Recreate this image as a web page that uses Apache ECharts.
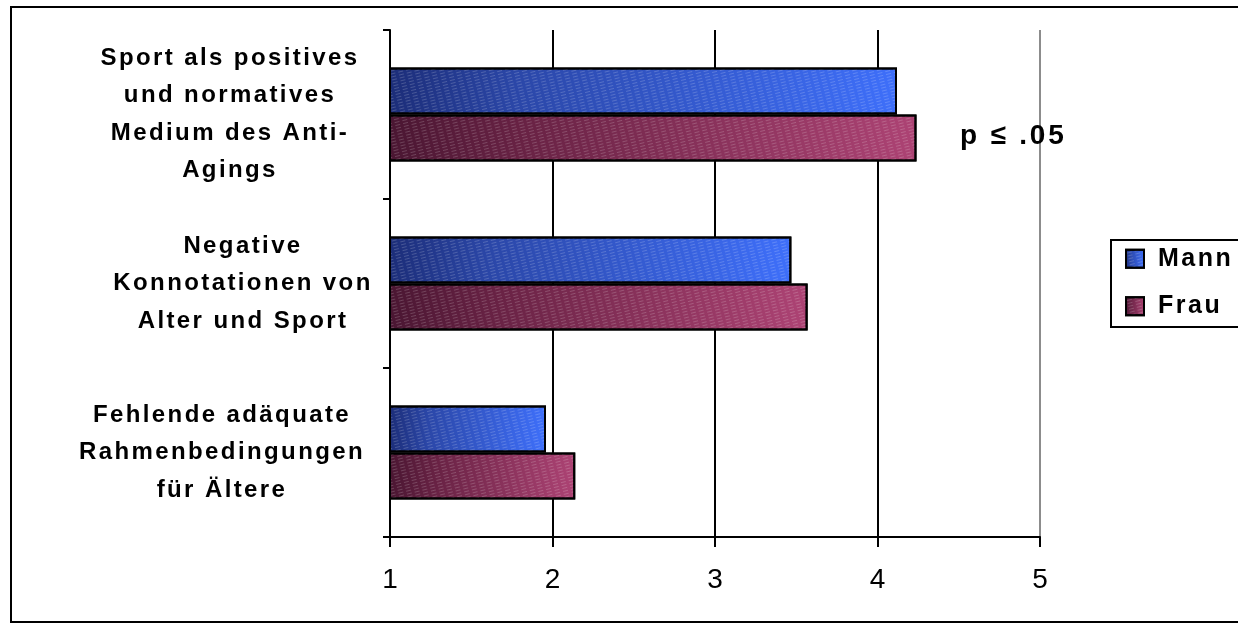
<!DOCTYPE html>
<html>
<head>
<meta charset="utf-8">
<script src="https://cdn.jsdelivr.net/npm/echarts@6/dist/echarts.min.js"></script>
<style>
html,body{margin:0;padding:0;background:#fff;}
#chart{width:1238px;height:631px;}
</style>
</head>
<body>
<div id="chart"></div>
<script>
// Wide letter spacing for bold text (as in the original Excel rendering)
(function(){
  var d = Object.getOwnPropertyDescriptor(CanvasRenderingContext2D.prototype, 'font');
  if (!d || !('letterSpacing' in CanvasRenderingContext2D.prototype)) return;
  Object.defineProperty(CanvasRenderingContext2D.prototype, 'font', {
    configurable: true,
    get: function(){ return d.get.call(this); },
    set: function(v){
      d.set.call(this, v);
      var m = /(\d+(?:\.\d+)?)px/.exec(v);
      if (/bold/.test(v) && m) { this.letterSpacing = (parseFloat(m[1]) * 0.1).toFixed(1) + 'px'; }
      else { this.letterSpacing = '0px'; }
    }
  });
})();

var categories = [
  'Sport als positives\nund normatives\nMedium des Anti-\nAgings',
  'Negative\nKonnotationen von\nAlter und Sport',
  'Fehlende adäquate\nRahmenbedingungen\nfür Ältere'
];
var seriesNames = ['Mann', 'Frau'];
var mann = [4.12, 3.47, 1.96];
var frau = [4.24, 3.57, 2.14];
var xTicks = [1, 2, 3, 4, 5];
var note = 'p \u2264 .05';

var FONT = "'Liberation Sans', Arial, sans-serif";
var chart = echarts.init(document.getElementById('chart'), null, {renderer: 'canvas'});

var mannColor = {type:'linear', x:0, y:0, x2:1, y2:0, colorStops:[
  {offset:0, color:'#1c2d78'}, {offset:0.25, color:'#2b47a8'}, {offset:1, color:'#3e6ffa'}]};
var frauColor = {type:'linear', x:0, y:0, x2:1, y2:0, colorStops:[
  {offset:0, color:'#4a1632'}, {offset:0.25, color:'#682244'}, {offset:1, color:'#ad4374'}]};
var hatch = {symbol:'rect', symbolSize:1, dashArrayX:[[5,3]], dashArrayY:[1,2], rotation:-0.25, color:'rgba(255,255,255,0.18)'};

var labelWidths = [272, 246, 288];
function richStyle(w){
  return {width: w, align: 'center', fontSize: 24, fontWeight: 'bold', lineHeight: 37.5, color: '#000', fontFamily: FONT};
}

chart.setOption({
  animation: false,
  backgroundColor: '#fff',
  textStyle: {fontFamily: FONT},
  grid: {left: 390, right: 198, top: 30, bottom: 94, containLabel: false},
  legend: {
    orient: 'vertical', left: 1111, top: 240,
    data: seriesNames,
    itemWidth: 18, itemHeight: 18, itemGap: 20,
    padding: [5, 30, 7, 14],
    borderColor: '#000', borderWidth: 2, backgroundColor: '#fff',
    icon: 'rect',
    itemStyle: {borderColor: '#000', borderWidth: 2},
    textStyle: {fontSize: 25, fontWeight: 'bold', color: '#000', fontFamily: FONT, padding: [0,0,0,9]}
  },
  xAxis: {
    type: 'value', min: xTicks[0], max: xTicks[xTicks.length-1], interval: 1,
    axisLine: {show: true, lineStyle: {color: '#000', width: 2}},
    axisTick: {show: true, length: 10, lineStyle: {color: '#000', width: 2}},
    axisLabel: {fontSize: 28, color: '#000', margin: 29, fontFamily: FONT},
    splitLine: {show: true, lineStyle: {color: ['#000','#000','#000','#000','#8c8c8c'], width: 2}}
  },
  yAxis: {
    type: 'category', data: categories, inverse: true,
    axisLine: {show: true, lineStyle: {color: '#000', width: 2}},
    axisTick: {show: true, length: 7, lineStyle: {color: '#000', width: 2}},
    axisLabel: {
      margin: 24, align: 'right',
      formatter: function(v, i){
        return v.split('\n').map(function(l){ return '{s' + i + '|' + l + '}'; }).join('\n');
      },
      rich: {s0: richStyle(labelWidths[0]), s1: richStyle(labelWidths[1]), s2: richStyle(labelWidths[2])}
    },
    splitLine: {show: false}
  },
  series: [
    {name: seriesNames[0], type: 'bar', data: mann, barWidth: 47, barGap: '0%',
     itemStyle: {color: mannColor, borderColor: '#000', borderWidth: 2, decal: hatch}},
    {name: seriesNames[1], type: 'bar', data: frau, barWidth: 47, barGap: '0%',
     itemStyle: {color: frauColor, borderColor: '#000', borderWidth: 2, decal: hatch}}
  ],
  graphic: [
    {type: 'rect', silent: true, z: 100, shape: {x: 11, y: 7, width: 1240, height: 615},
     style: {fill: null, stroke: '#000', lineWidth: 2}},
    {type: 'text', left: 960, top: 121, z: 100,
     style: {text: note, fill: '#000', font: "bold 28px 'Liberation Sans', Arial, sans-serif"}}
  ]
});
</script>
</body>
</html>
